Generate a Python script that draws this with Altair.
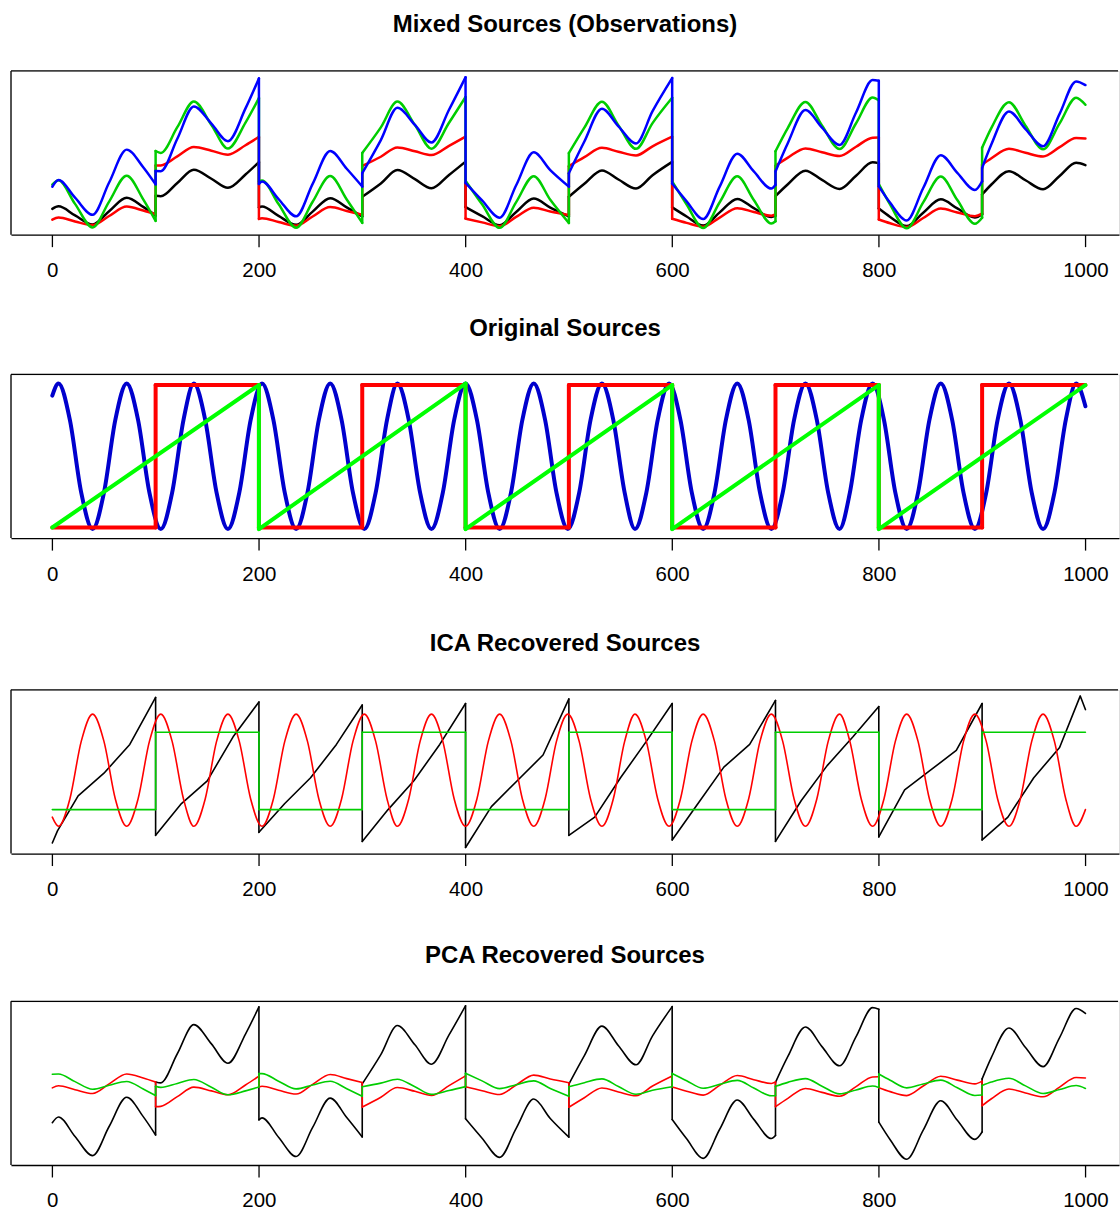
import altair as alt
import pandas as pd

TITLES = ["Mixed Sources (Observations)", "Original Sources",
          "ICA Recovered Sources", "PCA Recovered Sources"]
TICKS = [0, 200, 400, 600, 800, 1000]

# ---- shared x positions for the mixed / PCA series (repeated x = jump) ----
X_MIX = [0, 6, 22, 39, 55, 72, 88, 100,
         100, 105, 121, 137, 154, 170, 187, 200,
         200, 203, 219, 236, 252, 269, 285, 300,
         300, 318, 334, 351, 367, 384, 400,
         400, 416, 433, 449, 466, 482, 500,
         500, 515, 532, 548, 565, 581, 600,
         600, 614, 630, 646, 663, 679, 696, 700,
         700, 712, 729, 745, 762, 778, 794, 800,
         800, 811, 827, 843, 860, 876, 893, 900,
         900, 909, 926, 942, 959, 975, 991, 1000]

MIX_BLACK = [13.0, 14.7, 8.7, 2.7, 11.5, 20.3, 14.3, 8.6,
             21.6, 21.3, 30.1, 38.8, 32.9, 26.9, 35.7, 43.9,
             13.9, 14.5, 8.4, 2.5, 11.2, 20.1, 14.0, 8.0,
             21.0, 29.8, 38.6, 32.6, 26.6, 35.4, 44.2,
             14.2, 8.2, 2.2, 11.0, 19.8, 13.8, 8.0,
             21.0, 29.6, 38.4, 32.4, 26.4, 35.2, 44.0,
             14.0, 8.0, 2.0, 10.7, 19.6, 13.5, 7.6, 8.5,
             21.5, 29.3, 38.2, 32.1, 26.2, 34.9, 43.7, 43.2,
             13.2, 7.7, 1.7, 10.5, 19.3, 13.3, 7.3, 9.5,
             22.5, 29.1, 37.9, 31.9, 25.9, 34.7, 43.4, 41.9]
MIX_RED = [5.9, 7.3, 4.7, 2.3, 8.3, 14.5, 11.9, 9.4,
           41.6, 41.7, 47.7, 53.8, 51.4, 48.8, 55.0, 60.5,
           6.4, 6.9, 4.4, 1.9, 8.0, 14.2, 11.6, 9.1,
           41.3, 47.4, 53.5, 51.0, 48.5, 54.6, 60.7,
           6.6, 4.1, 1.6, 7.7, 13.8, 11.3, 9.0,
           41.2, 47.1, 53.3, 50.7, 48.3, 54.3, 60.6,
           6.5, 3.8, 1.3, 7.3, 13.5, 11.0, 8.5, 9.3,
           41.5, 46.8, 52.9, 50.4, 47.9, 54.0, 60.0, 60.1,
           6.0, 3.5, 1.0, 7.0, 13.2, 10.6, 8.2, 9.9,
           42.1, 46.4, 52.6, 50.0, 47.6, 53.7, 59.7, 59.4]
MIX_GREEN = [29.0, 31.9, 16.3, 0.8, 17.8, 34.9, 19.3, 5.1,
             51.2, 49.9, 66.9, 83.9, 68.4, 52.8, 69.9, 86.1,
             30.9, 31.7, 16.2, 0.6, 17.7, 34.7, 19.2, 3.8,
             49.9, 66.8, 83.8, 68.3, 52.7, 69.8, 86.8,
             31.6, 16.0, 0.5, 17.5, 34.6, 19.0, 3.7,
             49.8, 66.6, 83.7, 68.1, 52.6, 69.6, 86.3,
             31.1, 15.9, 0.4, 17.4, 34.5, 18.9, 3.4, 4.9,
             51.0, 66.5, 83.6, 68.0, 52.5, 69.5, 86.5, 84.5,
             29.3, 15.8, 0.2, 17.3, 34.3, 18.8, 3.2, 7.2,
             53.3, 66.4, 83.4, 67.9, 52.3, 69.4, 86.4, 81.7]
MIX_BLUE = [27.6, 32.0, 20.4, 9.1, 30.4, 52.1, 40.5, 29.2,
            38.0, 37.9, 59.3, 80.6, 69.3, 57.7, 79.3, 99.1,
            29.5, 31.1, 19.5, 8.1, 29.5, 51.2, 39.5, 27.8,
            36.6, 58.4, 79.7, 68.4, 56.8, 78.4, 99.8,
            30.2, 18.6, 7.2, 28.6, 50.3, 38.6, 27.7,
            36.5, 57.5, 79.1, 67.5, 56.2, 77.5, 99.3,
            29.7, 18.0, 6.3, 27.7, 49.4, 37.7, 26.4, 28.9,
            37.7, 56.5, 78.2, 66.6, 55.2, 76.6, 98.0, 97.5,
            27.9, 17.0, 5.4, 26.8, 48.4, 36.8, 25.5, 31.2,
            40.0, 55.6, 77.3, 65.7, 54.3, 75.7, 97.1, 94.7]

PCA_BLACK = [23.9, 27.7, 14.8, 2.2, 21.4, 40.7, 27.9, 15.8,
             50.8, 50.2, 69.4, 88.6, 75.9, 63.1, 82.4, 100.3,
             25.8, 27.1, 14.3, 1.6, 20.8, 40.1, 27.3, 14.5,
             49.5, 68.8, 88.0, 75.3, 62.5, 81.8, 101.0,
             26.5, 13.7, 1.0, 20.2, 39.5, 26.7, 14.4,
             49.4, 68.2, 87.6, 74.7, 62.1, 81.2, 100.5,
             26.0, 13.3, 0.4, 19.6, 38.9, 26.1, 13.5, 15.5,
             50.5, 67.6, 87.0, 74.1, 61.5, 80.7, 99.8, 98.8,
             24.3, 12.7, -0.2, 19.0, 38.4, 25.5, 12.9, 17.8,
             52.8, 67.0, 86.4, 73.5, 60.9, 80.1, 99.2, 96.0]
PCA_RED = [46.9, 48.3, 45.7, 43.2, 49.5, 56.0, 53.4, 50.7,
           34.5, 34.7, 41.1, 47.4, 44.9, 42.3, 48.8, 54.6,
           47.4, 48.0, 45.3, 42.8, 49.2, 55.7, 53.0, 50.4,
           34.2, 40.7, 47.1, 44.6, 41.9, 48.4, 54.8,
           47.6, 45.0, 42.5, 48.8, 55.3, 52.7, 50.3,
           34.1, 40.4, 46.8, 44.2, 41.7, 48.1, 54.7,
           47.5, 44.7, 42.1, 48.5, 55.0, 52.3, 49.8, 50.7,
           34.5, 40.0, 46.5, 43.9, 41.4, 47.7, 54.1, 54.2,
           47.0, 44.4, 41.8, 48.1, 54.6, 52.0, 49.5, 51.3,
           35.1, 39.7, 46.1, 43.5, 41.0, 47.4, 53.7, 53.4]
PCA_GREEN = [55.9, 56.0, 51.0, 46.0, 48.6, 51.1, 46.1, 41.8,
             48.0, 47.2, 49.8, 52.4, 47.3, 42.3, 44.9, 47.5,
             56.3, 56.3, 51.3, 46.2, 48.8, 51.3, 46.3, 41.4,
             47.6, 50.0, 52.6, 47.6, 42.6, 45.1, 47.7,
             56.5, 51.5, 46.4, 49.0, 51.5, 46.5, 41.4,
             47.6, 50.3, 52.8, 47.8, 42.7, 45.3, 47.6,
             56.4, 51.6, 46.6, 49.2, 51.8, 46.8, 41.7, 41.7,
             47.9, 50.5, 53.0, 48.0, 42.9, 45.5, 48.1, 47.2,
             56.0, 51.9, 46.9, 49.5, 52.0, 47.0, 41.9, 42.2,
             48.4, 50.7, 53.2, 48.2, 43.2, 45.8, 48.4, 46.5]

# ---- sine-like series (original blue source, ICA red) ----
X_SINE = [0, 6, 17, 28, 39, 50, 61, 72, 83, 94, 105, 116, 127,
          137, 148, 159, 170, 181, 192, 203, 214, 225, 236, 247, 258,
          269, 280, 291, 302, 313, 324, 334, 345, 356, 367, 378, 389,
          400, 411, 422, 433, 444, 455, 466, 477, 488, 499, 510, 521,
          532, 543, 554, 564, 575, 586, 597, 608, 619, 630, 641, 652,
          663, 674, 685, 696, 707, 718, 729, 740, 751, 762, 772, 783,
          794, 805, 816, 827, 838, 849, 860, 871, 882, 893, 904, 915,
          926, 937, 948, 959, 970, 981, 991, 1000]
SRC_BLUE = [90, 98, 74, 26, 2, 26, 74, 98, 74, 26, 2, 26, 74,
            98, 74, 26, 2, 26, 74, 98, 74, 26, 2, 26, 74,
            98, 74, 26, 2, 26, 74, 98, 74, 26, 2, 26, 74,
            98, 74, 26, 2, 26, 74, 98, 74, 26, 2, 26, 74,
            98, 74, 26, 2, 26, 74, 98, 74, 26, 2, 26, 74,
            98, 74, 26, 2, 26, 74, 98, 74, 26, 2, 26, 74,
            98, 74, 26, 2, 26, 74, 98, 74, 26, 2, 26, 74,
            98, 74, 26, 2, 26, 74, 98, 83]
ICA_RED = [20, 14, 32, 70, 88, 70, 32, 14, 32, 70, 88, 70, 32,
           14, 32, 70, 88, 70, 32, 14, 32, 70, 88, 70, 32,
           14, 32, 70, 88, 70, 32, 14, 32, 70, 88, 70, 32,
           14, 32, 70, 88, 70, 32, 14, 32, 70, 88, 70, 32,
           14, 32, 70, 88, 70, 32, 14, 32, 70, 88, 70, 32,
           14, 32, 70, 88, 70, 32, 14, 32, 70, 88, 70, 32,
           14, 32, 70, 88, 70, 32, 14, 32, 70, 88, 70, 32,
           14, 32, 70, 88, 70, 32, 14, 25]

# ---- square / sawtooth series ----
X_SQUARE = [0, 100, 100, 200, 200, 300, 300, 400, 400, 500,
            500, 600, 600, 700, 700, 800, 800, 900, 900, 1000]
SRC_RED = [3, 3, 97, 97, 3, 3, 97, 97, 3, 3,
           97, 97, 3, 3, 97, 97, 3, 3, 97, 97]
ICA_GREEN = [25, 25, 76, 76, 25, 25, 76, 76, 25, 25,
             76, 76, 25, 25, 76, 76, 25, 25, 76, 76]
X_SAW = [0, 200, 200, 400, 400, 600, 600, 800, 800, 1000]
SRC_GREEN = [3, 97, 2, 98, 2, 97, 2, 97, 2, 97]

X_ICA_BLACK = [0, 5, 25, 50, 75, 100,
               100, 125, 150, 175, 200,
               200, 225, 250, 275, 300,
               300, 325, 350, 375, 400,
               400, 425, 450, 475, 500,
               500, 525, 550, 575, 600,
               600, 625, 650, 675, 700,
               700, 725, 750, 775, 800,
               800, 825, 850, 875, 900,
               900, 925, 950, 975, 995, 1000]
ICA_BLACK = [3, 11, 34, 49, 68, 99,
             8, 29, 44, 73, 96,
             10, 29, 46, 68, 94,
             4, 25, 44, 68, 95,
             0, 27, 44, 61, 98,
             8, 20, 46, 70, 95,
             5, 29, 53, 68, 97,
             4, 31, 54, 73, 93,
             7, 38, 51, 64, 95,
             5, 20, 46, 66, 100, 91]

W, H = 1110, 164
FONT = "Liberation Sans"
XS = alt.Scale(domain=[-40, 1032.5], nice=False, zero=False)
YS = alt.Scale(domain=[-4, 104], nice=False, zero=False)
XA = alt.Axis(values=TICKS, title=None, grid=False, format="d",
              domain=True, domainColor="black", domainWidth=1.3,
              ticks=True, tickSize=12, tickColor="black", tickWidth=1.3,
              labels=True, labelFont=FONT, labelFontSize=20.5, labelColor="black",
              labelPadding=14, labelFlush=False, labelOverlap=False)


def split(xs, ys):
    assert len(xs) == len(ys)
    rows, jumps, seg = [], [], 0
    for i in range(len(xs)):
        if i > 0 and xs[i] == xs[i - 1]:
            seg += 1
            jumps.append({"x": xs[i], "y0": ys[i - 1], "y1": ys[i]})
        rows.append({"x": xs[i], "y": ys[i], "seg": seg})
    return pd.DataFrame(rows), pd.DataFrame(jumps)


def series(xs, ys, color, width, interp):
    df, jumps = split(xs, ys)
    out = [alt.Chart(df).mark_line(color=color, strokeWidth=width, interpolate=interp,
                                   strokeCap="round", strokeJoin="round").encode(
        x=alt.X("x:Q", scale=XS, axis=XA),
        y=alt.Y("y:Q", scale=YS, axis=None),
        detail="seg:N")]
    if len(jumps):
        out.append(alt.Chart(jumps).mark_rule(color=color, strokeWidth=width,
                                              strokeCap="round").encode(
            x=alt.X("x:Q", scale=XS, axis=XA),
            y=alt.Y("y0:Q", scale=YS, axis=None),
            y2="y1:Q"))
    return out


def frame():
    one = pd.DataFrame({"k": [0]})
    top = alt.Chart(one).mark_rule(color="black", strokeWidth=1.3).encode(
        x=alt.value(0), x2=alt.value(W - 1), y=alt.value(0))
    left = alt.Chart(one).mark_rule(color="black", strokeWidth=1.3).encode(
        x=alt.value(0), y=alt.value(0), y2=alt.value(H))
    return [top, left]


def panel(title, layers):
    return alt.layer(*(layers + frame())).properties(
        width=W, height=H,
        title=alt.TitleParams(title, font=FONT, fontSize=24, fontWeight="bold",
                              color="black", anchor="middle", baseline="alphabetic",
                              offset=14))


p1 = panel(TITLES[0],
           series(X_MIX, MIX_BLACK, "#000000", 2.5, "monotone")
           + series(X_MIX, MIX_RED, "#FF0000", 2.5, "monotone")
           + series(X_MIX, MIX_GREEN, "#00CD00", 2.5, "monotone")
           + series(X_MIX, MIX_BLUE, "#0000FF", 2.5, "monotone"))
p2 = panel(TITLES[1],
           series(X_SINE, SRC_BLUE, "#0000CD", 4, "monotone")
           + series(X_SQUARE, SRC_RED, "#FF0000", 4, "linear")
           + series(X_SAW, SRC_GREEN, "#00FF00", 4, "linear"))
p3 = panel(TITLES[2],
           series(X_ICA_BLACK, ICA_BLACK, "#000000", 1.6, "linear")
           + series(X_SINE, ICA_RED, "#FF0000", 1.6, "monotone")
           + series(X_SQUARE, ICA_GREEN, "#00CD00", 1.6, "linear"))
p4 = panel(TITLES[3],
           series(X_MIX, PCA_BLACK, "#000000", 1.6, "monotone")
           + series(X_MIX, PCA_RED, "#FF0000", 1.6, "monotone")
           + series(X_MIX, PCA_GREEN, "#00CD00", 1.6, "monotone"))

upper = alt.vconcat(p1, p2, spacing=34)
lower = alt.vconcat(p3, p4, spacing=42)
chart = alt.vconcat(upper, lower, spacing=46).properties(
    padding={"left": 9, "top": 11, "right": 0, "bottom": 0}
).configure_view(stroke=None).configure(background="white")

chart.save("out.html", embed_options={"renderer": "svg", "actions": False})
